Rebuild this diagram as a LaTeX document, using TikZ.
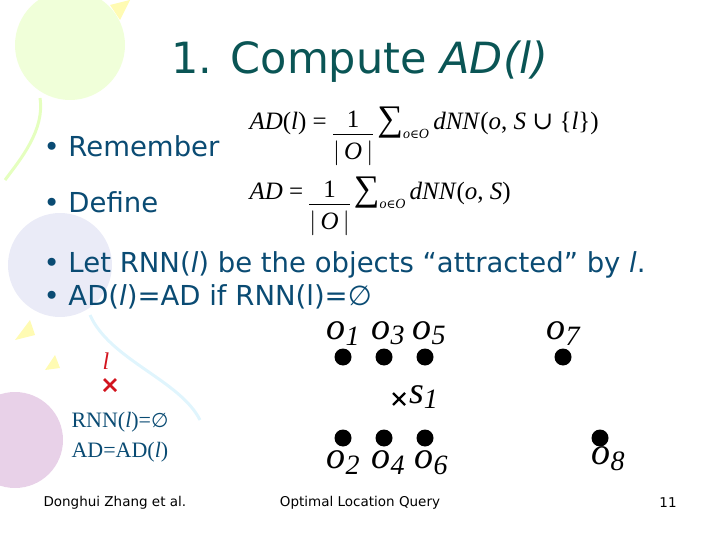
\documentclass[tikz,border=0pt]{standalone}
\usepackage{fontspec}
\setmainfont{DejaVu Sans}
\newfontfamily\tms{Liberation Serif}
\newfontfamily\djs{DejaVu Serif}
\newfontfamily\djsans{DejaVu Sans}
\usetikzlibrary{positioning,calc}
\definecolor{ttl}{RGB}{10,85,85}
\definecolor{txt}{RGB}{10,75,115}
\definecolor{crs}{RGB}{210,20,30}
\tikzset{
 bul/.style={anchor=west,text=txt,font=\fontsize{27.5}{30}\selectfont},
 dot/.style={circle,fill=black,inner sep=0pt,minimum size=17pt},
 olab/.style={inner sep=0pt,font=\tms\itshape\fontsize{38}{40}\selectfont},
 cross/.style={crs,line width=2.6pt},
 foot/.style={font=\fontsize{13.5}{15}\selectfont},
 frm/.style={anchor=west,font=\tms\fontsize{25}{27}\selectfont}
}
\newcommand{\ol}[1]{o\raisebox{-0.3ex}{\fontsize{28}{30}\selectfont #1}}
\newcommand{\frc}{\raisebox{-0.42\height}{\begin{tabular}{@{}c@{}}1\\[-2pt]\hline\rule{0pt}{25pt}$|$\,\textit{O}\,$|$\end{tabular}}}
\newcommand{\sm}{\raisebox{-0.05ex}{\fontsize{36}{36}\selectfont ∑}\raisebox{-0.8ex}{\fontsize{14}{14}\selectfont\textit{o}{\djs\fontsize{12}{12}\selectfont ∈}\textit{O}}}
\begin{document}
\begin{tikzpicture}[x=1pt,y=-1pt]
\useasboundingbox (0,0) rectangle (720,540);
% balloons
\fill[green!40!yellow!15] (70,45) circle (55);
\fill[cyan!30!blue!8] (60,265) circle (52);
\fill[violet!18] (15,440) circle (48);
\draw[green!40!yellow!25,line width=3pt] (40,98) .. controls (45,130) and (20,160) .. (5,180);
\draw[cyan!12,line width=3pt] (90,315) .. controls (110,360) and (180,380) .. (200,420);
\fill[yellow!30] (110,5) -- (130,0) -- (120,20) -- cycle;
\fill[yellow!30] (30,320) -- (15,340) -- (35,335) -- cycle;
\fill[yellow!30] (55,355) -- (45,370) -- (60,368) -- cycle;
% title
\node[text=ttl,font=\fontsize{43}{46}\selectfont] (title) at (360,62) {1. Compute \textit{AD(l)}};
\node[bul] (b1) at (40,146) {\textbullet\ Remember};
\node[bul] (b2) at (40,202) {\textbullet\ Define};
\node[bul] (b3) at (40,265) {\textbullet\ Let RNN(\textit{l}) be the objects “attracted” by \textit{l}.};
\node[bul] (b4) at (40,297) {\textbullet\ AD(\textit{l})=AD if RNN(l)=∅};
\node[frm] (f1) at (246,137) {\textit{AD}(\textit{l}) = \frc\,\sm\,\textit{dNN}(\textit{o}, \textit{S} {\djs ∪} \{\textit{l}\})};
\node[frm] (f2) at (246,207) {\textit{AD} = \frc\,\sm\,\textit{dNN}(\textit{o}, \textit{S})};
% points
\foreach \n/\x/\y in {1/343/357,3/384/357,5/425/357,7/563/357,2/343/438,4/384/438,6/425/438,8/600/438}
  \node[dot] (o\n) at (\x,\y) {};
\node[olab,above=3pt of o1] (lo1) {\ol1};
\node[olab,above=3pt of o3,xshift=4pt] (lo3) {\ol3};
\node[olab,above=3pt of o5,xshift=4pt] (lo5) {\ol5};
\node[olab,above=3pt of o7] (lo7) {\ol7};
\node[olab,below=4pt of o2] (lo2) {\ol2};
\node[olab,below=4pt of o4,xshift=4pt] (lo4) {\ol4};
\node[olab,below=4pt of o6,xshift=6pt] (lo6) {\ol6};
\node[olab,below=0pt of o8,xshift=8pt] (lo8) {\ol8};
\coordinate (s1) at (399,399);
\draw[line width=2.2pt] ($(s1)+(-6,-6)$) -- ($(s1)+(6,6)$) ($(s1)+(-6,6)$) -- ($(s1)+(6,-6)$);
\node[olab,anchor=west] (ls1) at (409,397) {s\raisebox{-0.3ex}{\fontsize{28}{30}\selectfont 1}};
\coordinate (l) at (110,385);
\draw[cross] ($(l)+(-6,-6)$) -- ($(l)+(6,6)$) ($(l)+(-6,6)$) -- ($(l)+(6,-6)$);
\node[text=crs,font=\tms\itshape\fontsize{24}{26}\selectfont] (ll) at (106,361) {l};
\node[anchor=west,text=txt,font=\tms\fontsize{22}{24}\selectfont] (r1) at (68,422) {RNN(\textit{l})={\djsans\fontsize{20}{22}\selectfont ∅}};
\node[anchor=west,text=txt,font=\tms\fontsize{22}{24}\selectfont] (r2) at (68,452) {AD=AD(\textit{l})};
\node[foot,anchor=west] (fa) at (40,503) {Donghui Zhang et al.};
\node[foot] (fb) at (360,503) {Optimal Location Query};
\node[foot] (fc) at (668,503) {11};
\end{tikzpicture}
\end{document}
